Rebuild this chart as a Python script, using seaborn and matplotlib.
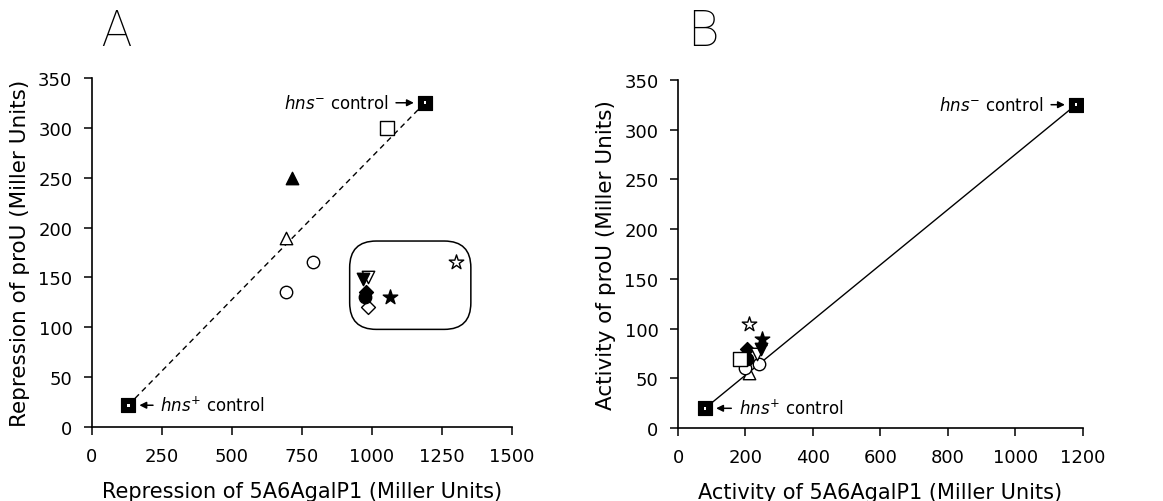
import numpy as np
import pandas as pd
import seaborn as sns
import matplotlib.pyplot as plt
from matplotlib.patches import FancyBboxPatch

# panel A: repression values (Miller units)
a_x = [1055, 715, 695, 790, 695, 970, 985, 980, 975, 985, 1065, 1300]
a_y = [300, 250, 190, 165, 135, 148, 150, 135, 130, 120, 130, 165]
a_marker = ["s", "^", "^", "o", "o", "v", "v", "D", "o", "D", "*", "*"]
a_filled = [False, True, False, False, False, True, False, True, True, False, True, False]
a_ctrl_x = [130, 1190]
a_ctrl_y = [22, 325]

# panel B: activity values (Miller units)
b_x = [210, 250, 245, 235, 205, 205, 205, 185, 200, 210, 240]
b_y = [105, 90, 80, 75, 80, 75, 70, 70, 60, 55, 65]
b_marker = ["*", "*", "v", "v", "D", "^", "o", "s", "o", "^", "o"]
b_filled = [False, True, True, False, True, True, True, False, False, False, False]
b_ctrl_x = [80, 1180]
b_ctrl_y = [20, 325]

sns.set_style("ticks")
plt.rcParams['font.family'] = ['DejaVu Sans']
plt.rcParams['mathtext.fontset'] = 'dejavusans'
plt.rcParams['text.color'] = 'black'
plt.rcParams['axes.labelcolor'] = 'black'
plt.rcParams['xtick.color'] = 'black'
plt.rcParams['ytick.color'] = 'black'

fig = plt.figure(figsize=(11.63, 5.02), dpi=100)
ax_a = fig.add_axes([0.079, 0.147, 0.361, 0.696])
ax_b = fig.add_axes([0.583, 0.145, 0.348, 0.694])

sizes = {"s": 90, "^": 80, "v": 80, "o": 80, "D": 50, "*": 120}


def draw_points(ax, xs, ys, markers, filled):
    df = pd.DataFrame({"x": xs, "y": ys, "m": markers, "f": filled})
    for (m, f), g in df.groupby(["m", "f"]):
        sns.scatterplot(data=g, x="x", y="y", marker=m, s=sizes[m],
                        facecolor="black" if f else "white",
                        edgecolor="black", linewidth=1.0, ax=ax, zorder=4)


def draw_controls(ax, cx, cy, ls):
    ctrl = pd.DataFrame({"x": cx, "y": cy})
    sns.lineplot(data=ctrl, x="x", y="y", color="black", linestyle=ls,
                 linewidth=1.0, ax=ax, zorder=2)
    sns.scatterplot(data=ctrl, x="x", y="y", marker="s", s=110,
                    color="black", edgecolor="black", ax=ax, zorder=5)
    sns.scatterplot(data=ctrl, x="x", y="y", marker="s", s=4,
                    color="white", edgecolor="none", ax=ax, zorder=6)


draw_controls(ax_a, a_ctrl_x, a_ctrl_y, (0, (4, 3)))
draw_points(ax_a, a_x, a_y, a_marker, a_filled)
draw_controls(ax_b, b_ctrl_x, b_ctrl_y, "-")
draw_points(ax_b, b_x, b_y, b_marker, b_filled)

# rounded box around the cluster in A
box = FancyBboxPatch((921, 98), 433, 88.5,
                     boxstyle="round,pad=0,rounding_size=95",
                     mutation_aspect=0.28, fill=False, edgecolor="black",
                     linewidth=1.1, zorder=3)
ax_a.add_patch(box)

arrow = dict(arrowstyle="-|>", color="black", lw=1.1, mutation_scale=10,
             shrinkA=3, shrinkB=8)
ax_a.annotate(r"$\it{hns}^{-}$ control", xy=(a_ctrl_x[1], a_ctrl_y[1]),
              xytext=(1060, a_ctrl_y[1]), ha="right", va="center",
              fontsize=12, arrowprops=arrow)
ax_a.annotate(r"$\it{hns}^{+}$ control", xy=(a_ctrl_x[0], a_ctrl_y[0]),
              xytext=(245, a_ctrl_y[0]), ha="left", va="center",
              fontsize=12, arrowprops=arrow)
ax_b.annotate(r"$\it{hns}^{-}$ control", xy=(b_ctrl_x[1], b_ctrl_y[1]),
              xytext=(1084, b_ctrl_y[1]), ha="right", va="center",
              fontsize=12, arrowprops=arrow)
ax_b.annotate(r"$\it{hns}^{+}$ control", xy=(b_ctrl_x[0], b_ctrl_y[0]),
              xytext=(180, b_ctrl_y[0]), ha="left", va="center",
              fontsize=12, arrowprops=arrow)

ax_a.set_xlim(0, 1500)
ax_a.set_xticks([0, 250, 500, 750, 1000, 1250, 1500])
ax_b.set_xlim(0, 1200)
ax_b.set_xticks([0, 200, 400, 600, 800, 1000, 1200])
for ax in (ax_a, ax_b):
    ax.set_ylim(0, 350)
    ax.set_yticks(np.arange(0, 351, 50))
    sns.despine(ax=ax)
    ax.tick_params(labelsize=13, length=6, width=1.1, color="black", pad=8)
    for s in ("left", "bottom"):
        ax.spines[s].set_linewidth(1.2)
        ax.spines[s].set_color("black")

ax_a.set_xlabel("Repression of 5A6AgalP1 (Miller Units)", fontsize=15, labelpad=12)
ax_a.set_ylabel("Repression of proU (Miller Units)", fontsize=15.5, labelpad=6)
ax_b.set_xlabel("Activity of 5A6AgalP1 (Miller Units)", fontsize=15, labelpad=12)
ax_b.set_ylabel("Activity of proU (Miller Units)", fontsize=15.5, labelpad=6)

fig.text(0.087, 0.935, "A", fontsize=36, family=["Roboto", "DejaVu Sans"],
         fontweight=100, va="center", ha="left")
fig.text(0.592, 0.935, "B", fontsize=36, family=["Roboto", "DejaVu Sans"],
         fontweight=100, va="center", ha="left")

fig.savefig("out.png", dpi=100)
